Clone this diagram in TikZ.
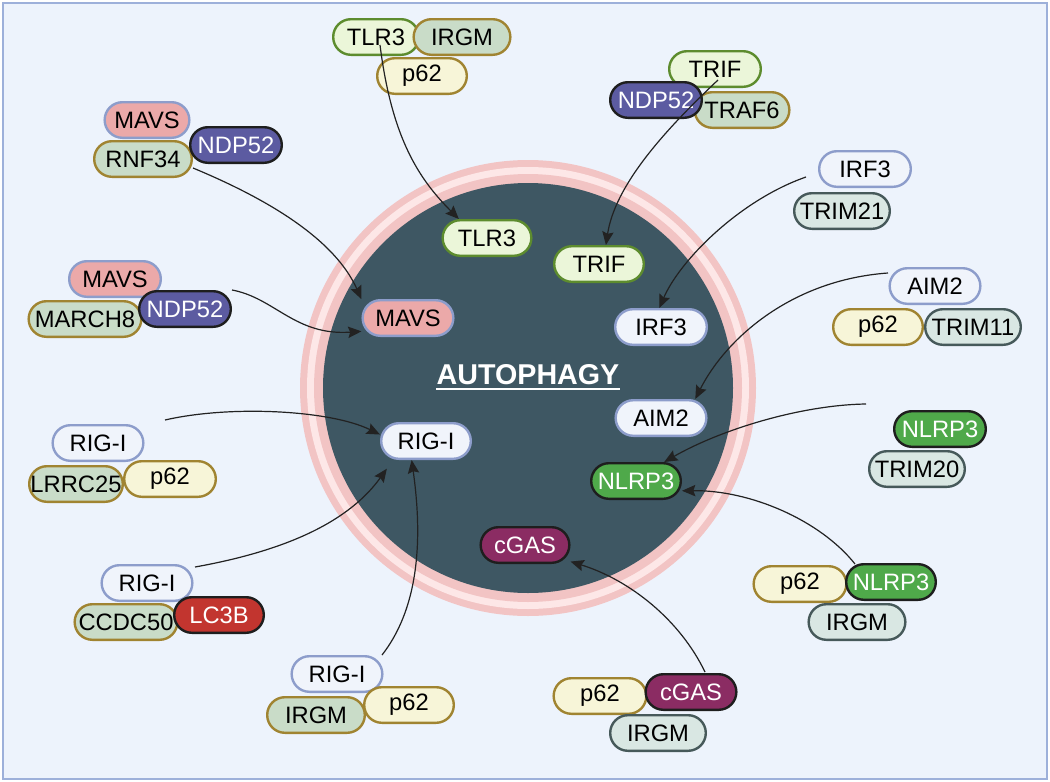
\documentclass[tikz,border=0pt]{standalone}
\usepackage{fontspec}
\setmainfont{Liberation Sans}
\usetikzlibrary{arrows.meta,calc}
\definecolor{bgc}{HTML}{EDF3FC}
\definecolor{framec}{HTML}{9DB0DA}
\definecolor{ringc}{HTML}{F2C4C4}
\definecolor{ringl}{HTML}{FDE7E7}
\definecolor{corec}{HTML}{3E5763}
\definecolor{gfill}{HTML}{EBF6D9}
\definecolor{gline}{HTML}{5D8C2E}
\definecolor{mfill}{HTML}{EBA9A9}
\definecolor{bline}{HTML}{8D9DCB}
\definecolor{wfill}{HTML}{F0F4FB}
\definecolor{ofill}{HTML}{C9DCC8}
\definecolor{oline}{HTML}{A08431}
\definecolor{yfill}{HTML}{F7F5D8}
\definecolor{sfill}{HTML}{D9E7E3}
\definecolor{sline}{HTML}{46595A}
\definecolor{nfill}{HTML}{5C5BA1}
\definecolor{lfill}{HTML}{4FA94A}
\definecolor{cfill}{HTML}{8B2C63}
\definecolor{rfill}{HTML}{C2352F}
\definecolor{dline}{HTML}{1E1E1E}
\definecolor{arrc}{HTML}{222222}
\tikzset{
  pill/.style={draw, line width=1.8pt, rounded corners=13.3pt, minimum height=26.7pt,
    minimum width=68pt, inner sep=0pt, font=\fontsize{17.8}{17.8}\selectfont, text=black},
  pgreen/.style={pill, fill=gfill, draw=gline},
  ppink/.style={pill, fill=mfill, draw=bline},
  pwhite/.style={pill, fill=wfill, draw=bline},
  polive/.style={pill, fill=ofill, draw=oline},
  pyell/.style={pill, fill=yfill, draw=oline},
  pslate/.style={pill, fill=sfill, draw=sline},
  pndp/.style={pill, fill=nfill, draw=dline, text=white},
  pnlrp/.style={pill, fill=lfill, draw=dline, text=white},
  pcgas/.style={pill, fill=cfill, draw=dline, text=white},
  plc/.style={pill, fill=rfill, draw=dline, text=white},
  pw/.style={minimum width=#1},
  conn/.style={draw=arrc, line width=0.9pt, -{Stealth[length=10pt,width=8.5pt,inset=1.5pt]}},
}
\begin{document}
\begin{tikzpicture}[x=0.75pt,y=-0.75pt]
\useasboundingbox (0,0) rectangle (1050,782);
\draw[line width=2pt, draw=framec, fill=bgc] (3,3) rectangle (1047,779);
% autophagosome
\fill[ringc] (528,388) circle [radius=228];
\fill[ringl] (528,388) circle [radius=221];
\fill[ringc] (528,388) circle [radius=214];
\fill[corec] (528,388) circle [radius=205];
\node[anchor=base, inner sep=0pt, text=white, font=\fontsize{21.5}{21.5}\selectfont\bfseries] (ttl) at (528,384) {AUTOPHAGY};
\draw[white, line width=1.4pt] ($(ttl.base west)+(0,5)$) -- ($(ttl.base east)+(0,5)$);
% inner pills
\node[pgreen, pw=66.5pt] (iTLR) at (487,238) {TLR3};
\node[pgreen, pw=67.2pt] (iTRIF) at (599,264) {TRIF};
\node[ppink, pw=68pt] (iMAVS) at (408,318) {MAVS};
\node[pwhite, pw=68.7pt] (iIRF) at (661,327) {IRF3};
\node[pwhite, pw=68pt] (iAIM) at (661,418) {AIM2};
\node[pwhite, pw=67.2pt] (iRIG) at (426,441) {RIG-I};
\node[pnlrp, pw=67.2pt] (iNLRP) at (636,481) {NLRP3};
\node[pcgas, pw=66.5pt] (iCGAS) at (525,545) {cGAS};
% cluster 1: TLR3 IRGM p62
\node[pgreen, pw=64.2pt] (aTLR) at (376,37) {TLR3};
\node[polive, pw=72.5pt] (aIRGM) at (462,37) {IRGM};
\node[pyell, pw=67.2pt] (aP62) at (422,76) {p62};
% cluster 2: TRIF TRAF6 NDP52
\node[pgreen, pw=68.7pt] (bTRIF) at (715,69) {TRIF};
\node[polive, pw=71pt] (bTRAF) at (742,110) {TRAF6};
\node[pndp, pw=68.7pt] (bNDP) at (656,100) {NDP52};
% cluster 3: MAVS RNF34 NDP52
\node[ppink, pw=63.5pt] (cMAVS) at (147,120) {MAVS};
\node[polive, pw=73.2pt] (cRNF) at (143,159) {RNF34};
\node[pndp, pw=68.7pt] (cNDP) at (236,145) {NDP52};
% cluster 4: MAVS MARCH8 NDP52
\node[ppink, pw=68.7pt] (dMAVS) at (115,279) {MAVS};
\node[polive, pw=84.5pt] (dMARCH) at (85,319) {MARCH8};
\node[pndp, pw=68.7pt] (dNDP) at (185,309) {NDP52};
% cluster 5: IRF3 TRIM21
\node[pwhite, pw=68.7pt] (eIRF) at (865,169) {IRF3};
\node[pslate, pw=71.7pt] (eTRIM) at (842,211) {TRIM21};
% cluster 6: AIM2 p62 TRIM11
\node[pwhite, pw=68pt] (fAIM) at (935,286) {AIM2};
\node[pyell, pw=67.2pt] (fP62) at (878,327) {p62};
\node[pslate, pw=71.7pt] (fTRIM) at (973,327) {TRIM11};
% cluster 7: NLRP3 TRIM20
\node[pnlrp, pw=68.7pt] (gNLRP) at (940,429) {NLRP3};
\node[pslate, pw=71.7pt] (gTRIM) at (917,469) {TRIM20};
% cluster 8: p62 NLRP3 IRGM
\node[pyell, pw=69.5pt] (hP62) at (800,584) {p62};
\node[pnlrp, pw=67.2pt] (hNLRP) at (891,582) {NLRP3};
\node[pslate, pw=72.5pt] (hIRGM) at (857,622) {IRGM};
% cluster 9: p62 cGAS IRGM
\node[pyell, pw=69.5pt] (kP62) at (600,696) {p62};
\node[pcgas, pw=68pt] (kCGAS) at (691,692) {cGAS};
\node[pslate, pw=71.7pt] (kIRGM) at (658,733) {IRGM};
% cluster 10: RIG-I IRGM p62
\node[pwhite, pw=68pt] (mRIG) at (337,674) {RIG-I};
\node[polive, pw=73.2pt] (mIRGM) at (316,715) {IRGM};
\node[pyell, pw=67.2pt] (mP62) at (409,705) {p62};
% cluster 11: RIG-I CCDC50 LC3B
\node[pwhite, pw=68pt] (nRIG) at (147,583) {RIG-I};
\node[polive, pw=77pt] (nCCDC) at (126,622) {CCDC50};
\node[plc, pw=67.2pt] (nLC3B) at (219,615) {LC3B};
% cluster 12: RIG-I LRRC25 p62
\node[pwhite, pw=68pt] (pRIG) at (98,443) {RIG-I};
\node[polive, pw=70.2pt] (pLRRC) at (76,484) {LRRC25};
\node[pyell, pw=68.7pt] (pP62) at (170,479) {p62};
% connector start points
\coordinate (s1) at (380,45);
\coordinate (s2) at (718,80);
\coordinate (s3) at (193,168);
\coordinate (s4) at (232,290);
\coordinate (s5) at (806,177);
\coordinate (s6) at (888,273);
\coordinate (s7) at (866,404);
\coordinate (s8) at (855,564);
\coordinate (s9) at (705,672);
\coordinate (s10) at (382,655);
\coordinate (s11) at (195,567);
\coordinate (s12) at (165,420);
% connectors
\draw[conn] (s1) .. controls (392,140) and (420,180) .. (iTLR.146);
\draw[conn] (s2) .. controls (665,130) and (615,185) .. (iTRIF.70);
\draw[conn] (s3) .. controls (270,200) and (335,240) .. (iMAVS.158);
\draw[conn] (s4) .. controls (275,298) and (295,336) .. (iMAVS.196);
\draw[conn] (s5) .. controls (740,200) and (680,260) .. (iIRF.95);
\draw[conn] (s6) .. controls (790,280) and (725,340) .. (iAIM.29);
\draw[conn] (s7) .. controls (800,405) and (720,430) .. (iNLRP.34);
\draw[conn] (s8) .. controls (820,520) and (750,490) .. (iNLRP.-12);
\draw[conn] (s9) .. controls (680,620) and (630,580) .. (iCGAS.-20);
\draw[conn] (s10) .. controls (425,600) and (420,520) .. (iRIG.-127);
\draw[conn, shorten >=8pt] (s11) .. controls (290,550) and (350,520) .. (iRIG.-150);
\draw[conn] (s12) .. controls (230,405) and (330,410) .. (iRIG.172);
\end{tikzpicture}
\end{document}
